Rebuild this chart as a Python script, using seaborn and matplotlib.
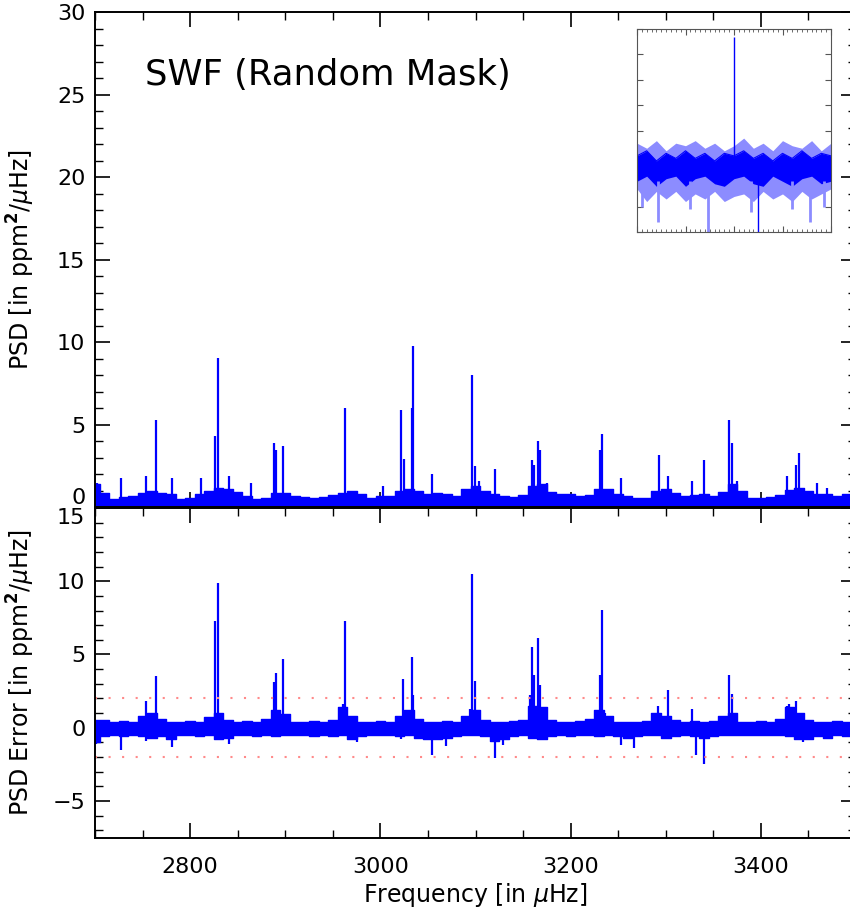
import numpy as np
import pandas as pd
import seaborn as sns
import matplotlib
matplotlib.use("Agg")
import matplotlib.pyplot as plt
from matplotlib.ticker import MultipleLocator

# ---------------- data ----------------
freq_grid = list(range(2700, 3501, 10))

psd_noise = [1.4, 0.9, 0.5, 0.65, 0.7, 0.85, 1.0, 0.9, 0.8, 0.5,
             0.55, 0.8, 1.0, 1.2, 1.1, 0.95, 0.7, 0.5, 0.6, 0.9,
             0.9, 0.7, 0.65, 0.6, 0.65, 0.75, 0.9, 1.0, 0.8, 0.6,
             0.7, 0.7, 1.0, 1.1, 1.0, 0.8, 0.85, 0.8, 0.7, 1.1,
             1.3, 1.0, 0.8, 0.7, 0.65, 0.75, 1.3, 1.4, 0.95, 0.8,
             0.8, 0.7, 0.75, 1.15, 1.1, 0.8, 0.7, 0.6, 0.55, 1.0,
             1.1, 0.85, 0.7, 0.75, 0.8, 0.7, 0.95, 1.4, 1.0, 0.6,
             0.55, 0.65, 0.75, 1.05, 1.2, 1.0, 0.8, 0.8, 0.7, 0.8,
             0.7]

psd_peak_freq = [2702, 2727, 2754, 2764, 2781, 2811, 2826, 2829, 2841, 2864,
                 2888, 2890, 2898, 2963, 3003, 3022, 3025, 3033, 3034.5, 3054,
                 3096, 3099, 3104, 3121, 3159, 3161, 3166, 3168, 3175, 3231,
                 3233, 3253, 3293, 3302, 3328, 3340, 3367, 3370, 3375, 3427,
                 3437, 3440, 3459, 3469]
psd_peak_val = [1.5, 1.8, 1.9, 5.3, 1.8, 1.8, 4.3, 9.05, 1.9, 1.5,
                3.9, 3.5, 3.75, 6.05, 1.3, 5.9, 2.95, 6.05, 9.75, 2.0,
                8.05, 2.5, 1.6, 2.35, 2.9, 2.6, 4.05, 3.5, 1.5, 3.5,
                4.45, 1.8, 3.2, 1.9, 1.6, 2.9, 5.3, 3.9, 1.6, 1.9,
                2.6, 3.3, 1.5, 1.2]

err_upper = [0.5, 0.5, 0.4, 0.45, 0.4, 0.8, 1.0, 0.6, 0.4, 0.4,
             0.45, 0.4, 0.7, 1.0, 0.5, 0.4, 0.45, 0.4, 0.6, 1.2,
             0.9, 0.4, 0.4, 0.45, 0.4, 0.5, 1.4, 0.8, 0.4, 0.4,
             0.45, 0.4, 0.8, 1.2, 0.6, 0.4, 0.4, 0.45, 0.4, 0.8,
             1.2, 0.5, 0.4, 0.4, 0.45, 0.5, 1.5, 1.4, 0.5, 0.4,
             0.4, 0.45, 0.6, 1.2, 0.8, 0.4, 0.4, 0.4, 0.45, 1.0,
             0.8, 0.5, 0.4, 0.45, 0.4, 0.45, 0.8, 1.0, 0.4, 0.4,
             0.45, 0.4, 0.6, 1.4, 1.0, 0.5, 0.4, 0.4, 0.45, 0.4,
             0.6]
err_lower = [-1.0, -0.6, -0.5, -0.6, -0.5, -0.6, -0.7, -0.6, -0.8, -0.5,
             -0.5, -0.6, -0.5, -0.8, -0.7, -0.5, -0.5, -0.6, -0.5, -0.6,
             -0.5, -0.5, -0.5, -0.55, -0.5, -0.6, -0.5, -0.8, -0.6, -0.5,
             -0.5, -0.5, -0.6, -0.5, -0.7, -0.8, -0.8, -0.7, -0.6, -0.5,
             -0.5, -0.6, -0.9, -0.8, -0.6, -0.5, -0.7, -0.8, -0.6, -0.5,
             -0.55, -0.5, -0.5, -0.6, -0.5, -0.6, -0.7, -0.6, -0.5, -0.5,
             -0.7, -0.6, -0.5, -0.6, -0.7, -0.6, -0.5, -0.5, -0.5, -0.5,
             -0.5, -0.5, -0.5, -0.6, -0.8, -0.8, -0.6, -0.7, -0.5, -0.6,
             -0.5]

err_peak_freq = [2754, 2764, 2826, 2829, 2888, 2890, 2898, 2961, 2963, 3024,
                 3033, 3034.5, 3094, 3096, 3099, 3157, 3159, 3161, 3166, 3168,
                 3231, 3233, 3236, 3292, 3302, 3328, 3367, 3370, 3427, 3430,
                 3437, 3499]
err_peak_val = [1.8, 3.55, 7.3, 9.9, 3.1, 3.7, 4.7, 1.6, 7.3, 3.3,
                4.85, 2.2, 1.3, 10.5, 3.2, 2.2, 5.5, 3.6, 6.1, 2.9,
                3.6, 8.05, 1.0, 1.5, 2.6, 1.3, 3.6, 2.3, 1.5, 1.6,
                1.8, 0.75]
err_dip_freq = [2701, 2727, 2754, 2781, 2841, 2975, 3022, 3054, 3069, 3121,
                3129, 3253, 3267, 3332, 3340, 3444]
err_dip_val = [-1.1, -1.55, -0.9, -1.3, -1.1, -1.0, -0.8, -1.9, -1.25, -2.1,
               -1.2, -1.2, -1.4, -1.9, -2.45, -1.0]

threshold = 2.0

top_yticks = [0, 5, 10, 15, 20, 25, 30]
bot_yticks = [-5, 0, 5, 10, 15]
x_ticks = [2800, 3000, 3200, 3400]

inset_x = [-2.0, -1.8, -1.6, -1.4, -1.2, -1.0, -0.8, -0.6, -0.4, -0.2, 0.0,
           0.2, 0.4, 0.6, 0.8, 1.0, 1.2, 1.4, 1.6, 1.8, 2.0]
inset_light_hi = [3.5, 3.3, 3.6, 3.2, 3.5, 3.4, 3.6, 3.3, 3.5, 3.2, 3.4,
                  3.7, 3.3, 3.5, 3.2, 3.6, 3.4, 3.3, 3.6, 3.2, 3.5]
inset_light_lo = [1.7, 1.2, 1.6, 1.3, 1.6, 1.2, 1.5, 1.3, 1.6, 1.2, 1.4,
                  1.5, 1.2, 1.6, 1.3, 1.5, 1.2, 1.6, 1.3, 1.5, 1.7]
inset_dark_hi = [3.0, 3.2, 2.8, 3.1, 2.9, 3.2, 2.9, 3.1, 2.8, 3.1, 3.0,
                 3.2, 2.9, 3.1, 2.8, 3.1, 2.9, 3.2, 2.9, 3.1, 3.0]
inset_dark_lo = [2.0, 2.2, 1.8, 2.1, 2.2, 1.8, 2.1, 2.2, 1.9, 1.8, 2.1,
                 2.2, 1.9, 1.8, 2.2, 2.0, 1.8, 2.1, 2.2, 1.9, 2.0]
inset_light_spike_x = [-1.57, -0.53, 1.56, -1.9, -0.9, 0.35, 1.2, 1.85]
inset_light_spike_lo = [0.4, 0.0, 0.4, 1.0, 0.9, 0.8, 0.9, 1.0]
inset_dark_spike_x = [0.0, 0.5]
inset_dark_spike_lo = [2.5, 0.0]
inset_dark_spike_hi = [7.7, 2.5]

# ---------------- style ----------------
sns.set_style("ticks")
plt.rcParams['font.family'] = ['DejaVu Sans']
for k in ('text.color', 'axes.labelcolor', 'xtick.color', 'ytick.color',
          'axes.edgecolor'):
    plt.rcParams[k] = 'black'
BLUE = '#0000ff'
FS = 16

fig = plt.figure(figsize=(8.5, 9.13), dpi=100)
W, H = 850.0, 913.0
L, R = 95.0, 856.0
ax1 = fig.add_axes([L / W, 1 - 507.5 / H, (R - L) / W, 495.5 / H])
ax2 = fig.add_axes([L / W, 1 - 837.5 / H, (R - L) / W, 329.5 / H])

top_df = pd.DataFrame({'freq': freq_grid, 'psd': psd_noise})
err_df = pd.DataFrame({'freq': freq_grid, 'up': err_upper, 'lo': err_lower})

# top panel
ax1.fill_between(top_df['freq'], 0, top_df['psd'], step='mid', color=BLUE, lw=0)
sns.lineplot(data=top_df, x='freq', y='psd', ax=ax1, color=BLUE, lw=1,
             drawstyle='steps-mid', legend=False)
ax1.vlines(psd_peak_freq, 0, psd_peak_val, color=BLUE, lw=1.6)
ax1.set_xlim(2700, 3500)
ax1.set_ylim(0, 30)
ax1.set_xlabel('')
ax1.set_ylabel(r'PSD [in ppm$^\mathbf{2}$/$\mu$Hz]', fontsize=17)
ax1.yaxis.set_label_coords(-0.076, 0.5)
ax1.text(0.066, 0.873, 'SWF (Random Mask)', transform=ax1.transAxes,
         fontsize=25.5, va='center', ha='left')

# bottom panel
ax2.fill_between(err_df['freq'], err_df['lo'], err_df['up'], step='mid',
                 color=BLUE, lw=0)
sns.lineplot(data=err_df, x='freq', y='up', ax=ax2, color=BLUE, lw=1,
             drawstyle='steps-mid', legend=False)
sns.lineplot(data=err_df, x='freq', y='lo', ax=ax2, color=BLUE, lw=1,
             drawstyle='steps-mid', legend=False)
ax2.vlines(err_peak_freq, 0, err_peak_val, color=BLUE, lw=1.6)
ax2.vlines(err_dip_freq, err_dip_val, 0, color=BLUE, lw=1.6)
for t in (threshold, -threshold):
    ax2.axhline(t, color='#ff8a8a', lw=1.5, ls=(0, (1, 5.5)))
ax2.set_xlim(2700, 3500)
ax2.set_ylim(-7.5, 15)
ax2.set_xlabel(r'Frequency [in $\mu$Hz]', fontsize=17, labelpad=3)
ax2.set_ylabel(r'PSD Error [in ppm$^\mathbf{2}$/$\mu$Hz]', fontsize=17)
ax2.yaxis.set_label_coords(-0.076, 0.5)

for ax, yt in ((ax1, top_yticks), (ax2, bot_yticks)):
    ax.set_xticks(x_ticks)
    ax.set_yticks(yt)
    ax.xaxis.set_minor_locator(MultipleLocator(50))
    ax.yaxis.set_minor_locator(MultipleLocator(1))
    ax.tick_params(which='both', direction='in', top=True, right=True,
                   color='black', labelsize=FS, labelcolor='black')
    ax.tick_params(which='major', length=11, width=1.2)
    ax.tick_params(which='minor', length=6, width=1.0)
    ax.tick_params(axis='y', pad=7)
    for s in ax.spines.values():
        s.set_linewidth(1.4)
        s.set_color('black')
ax1.tick_params(labelbottom=False)
ax2.tick_params(axis='x', pad=14)
ax1.set_xlim(2700, 3500)
ax2.set_xlim(2700, 3500)
ax1.set_ylim(0, 30)
ax2.set_ylim(-7.5, 15)

# boundary labels: top "0" sits above the join, bottom "15" below it
ax1.get_yticklabels()[0].set_va('bottom')
ax2.get_yticklabels()[-1].set_va('top')

# inset
axi = fig.add_axes([637 / W, 1 - 232 / H, 194 / W, 203 / H])
ins_df = pd.DataFrame({'x': inset_x, 'lh': inset_light_hi, 'll': inset_light_lo,
                       'dh': inset_dark_hi, 'dl': inset_dark_lo})
axi.fill_between(ins_df['x'], ins_df['ll'], ins_df['lh'], color='#8c8cff', lw=0)
axi.vlines(inset_light_spike_x, inset_light_spike_lo, 2.0, color='#8c8cff', lw=2)
axi.fill_between(ins_df['x'], ins_df['dl'], ins_df['dh'], color=BLUE, lw=0)
sns.lineplot(data=ins_df, x='x', y='dh', ax=axi, color=BLUE, lw=0.8,
             legend=False)
axi.vlines(inset_dark_spike_x, inset_dark_spike_lo, inset_dark_spike_hi,
           color=BLUE, lw=1)
axi.set_xlim(-2, 2)
axi.set_ylim(0, 8)
axi.set_xlabel('')
axi.set_ylabel('')
axi.xaxis.set_major_locator(MultipleLocator(1))
axi.xaxis.set_minor_locator(MultipleLocator(0.1))
axi.yaxis.set_major_locator(MultipleLocator(1))
axi.tick_params(which='both', direction='in', top=True, right=True,
                labelbottom=False, labelleft=False, color='#555555')
axi.tick_params(which='major', length=4, width=0.8)
axi.tick_params(which='minor', length=2, width=0.6)
for s in axi.spines.values():
    s.set_linewidth(0.8)
    s.set_color('#555555')

fig.savefig('out.png', dpi=100)
